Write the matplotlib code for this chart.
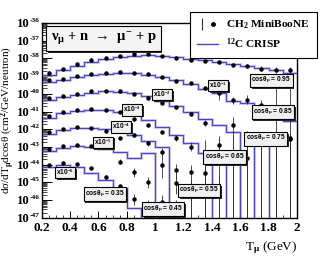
import numpy as np
import matplotlib
matplotlib.use("Agg")
import matplotlib.pyplot as plt
from matplotlib.lines import Line2D
from matplotlib.patches import Rectangle
from matplotlib.legend_handler import HandlerTuple
from matplotlib.transforms import offset_copy, blended_transform_factory, IdentityTransform
from matplotlib.ticker import FixedLocator, NullFormatter

nan = float("nan")

# ---------------- data ----------------
T_edges = [0.2, 0.3, 0.4, 0.5, 0.6, 0.7, 0.8, 0.9, 1.0, 1.1, 1.2, 1.3, 1.4,
           1.5, 1.6, 1.7, 1.8, 1.9, 2.0]
T_centers = [0.25, 0.35, 0.45, 0.55, 0.65, 0.75, 0.85, 0.95, 1.05, 1.15, 1.25,
             1.35, 1.45, 1.55, 1.65, 1.75, 1.85, 1.95]

cos_bins = ["0.95", "0.85", "0.75", "0.65", "0.55", "0.45", "0.35"]
scale_exp = [0, -1, -2, -3, -4, -5, -6]

# MiniBooNE points: log10 of plotted (scaled) cross section, error ends in decades
mb_095 = [-38.82, -38.59, -38.31, -38.11, -37.97, -37.84, -37.78, -37.77, -37.87, -37.97,
          -38.07, -38.16, -38.22, -38.35, -38.45, -38.59, -38.63, -38.67]
up_095 = [0.10, 0.07, 0.04, 0.03, 0.03, 0.03, 0.03, 0.03, 0.03, 0.04, 0.05, 0.06, 0.08,
          0.10, 0.12, 0.14, 0.16, 0.18]
dn_095 = [0.10, 0.07, 0.04, 0.03, 0.03, 0.03, 0.03, 0.03, 0.03, 0.04, 0.05, 0.06, 0.08,
          0.10, 0.12, 0.14, 0.16, 0.18]

mb_085 = [-39.20, -39.16, -39.01, -38.88, -38.82, -38.76, -38.82, -38.88, -39.03, -39.26,
          -39.39, -39.67, -39.95, -40.37, -40.33, -40.62, -39.30, -39.30]
up_085 = [0.05, 0.04, 0.03, 0.03, 0.03, 0.03, 0.03, 0.03, 0.04, 0.06, 0.08, 0.12, 0.40,
          0.20, 0.25, 0.25, 0.50, 0.50]
dn_085 = [0.05, 0.04, 0.03, 0.03, 0.03, 0.03, 0.03, 0.03, 0.04, 0.06, 0.08, 0.12, 0.40,
          0.20, 0.25, 0.30, 9, 9]

mb_075 = [-40.24, -40.11, -39.99, -39.86, -39.82, -39.86, -39.99, -40.24, -40.52, -40.75,
          -41.14, -41.65, -42.88, -41.75, -42.55, -42.55, -42.55, -42.50]
up_075 = [0.04, 0.03, 0.03, 0.03, 0.03, 0.03, 0.03, 0.04, 0.05, 0.08, 0.12, 0.18, 0.35,
          0.45, 0.30, 0.30, 0.30, 0.30]
dn_075 = [0.04, 0.03, 0.03, 0.03, 0.03, 0.03, 0.03, 0.04, 0.05, 0.08, 0.12, 0.18, 0.35,
          9, 9, 9, 9, 9]

mb_065 = [-41.27, -41.00, -40.90, -40.86, -40.90, -41.00, -41.43, -41.75, -42.13, -42.50,
          -42.98, -43.60, -43.60, -43.60, -43.60, -42.55, -42.55, -42.55]
up_065 = [0.05, 0.04, 0.03, 0.03, 0.03, 0.04, 0.05, 0.06, 0.10, 0.15, 0.25, 1.0, 1.2,
          1.3, 1.5, 0.3, 0.3, 0.3]
dn_065 = [0.05, 0.04, 0.03, 0.03, 0.03, 0.04, 0.05, 0.06, 0.10, 0.15, 0.25, 9, 9,
          9, 9, 9, 9, 9]

mb_055 = [-42.16, -41.98, -41.88, -41.94, -42.09, -42.50, -42.32, -42.79, -43.26, -44.30,
          -44.40, -44.45, -45.45, nan, nan, nan, nan, nan]
up_055 = [0.06, 0.04, 0.04, 0.04, 0.05, 0.08, 0.10, 0.15, 0.22, 0.35, 0.40, 0.40, 0.80,
          nan, nan, nan, nan, nan]
dn_055 = [0.06, 0.04, 0.04, 0.04, 0.05, 0.08, 0.10, 0.15, 0.22, 0.50, 9, 9, 9,
          nan, nan, nan, nan, nan]

mb_045 = [-43.11, -42.97, -42.88, -42.96, -42.95, -43.83, -44.40, -44.96, -44.02, -45.05,
          -45.45, -45.45, nan, nan, nan, nan, nan, nan]
up_045 = [0.05, 0.04, 0.04, 0.04, 0.05, 0.15, 0.20, 0.25, 0.60, 0.60, 0.60, 0.60,
          nan, nan, nan, nan, nan, nan]
dn_045 = [0.05, 0.04, 0.04, 0.04, 0.05, 0.15, 0.30, 0.35, 0.70, 0.60, 9, 9,
          nan, nan, nan, nan, nan, nan]

mb_035 = [-44.02, -43.92, -43.96, -44.20, -44.68, -45.21, -45.96, -46.50, -46.10, -46.50,
          nan, nan, nan, nan, nan, nan, nan, nan]
up_035 = [0.05, 0.05, 0.05, 0.06, 0.08, 0.12, 0.30, 0.50, 0.40, 0.50,
          nan, nan, nan, nan, nan, nan, nan, nan]
dn_035 = [0.05, 0.05, 0.05, 0.06, 0.08, 0.12, 0.30, 9, 9, 9,
          nan, nan, nan, nan, nan, nan, nan, nan]

# CRISP histograms: log10 of plotted (scaled) values, nan = empty bin
crisp_095 = [-38.95, -38.68, -38.42, -38.20, -38.03, -37.92, -37.85, -37.82, -37.85, -37.93,
             -38.03, -38.12, -38.22, -38.30, -38.42, -38.55, -38.68, -38.80]
crisp_085 = [-39.35, -39.22, -39.06, -38.95, -38.88, -38.83, -38.85, -38.92, -39.05, -39.22,
             -39.42, -39.75, -39.95, -40.43, -40.50, -40.71, -41.00, -41.56]
crisp_075 = [-40.35, -40.18, -40.05, -39.93, -39.86, -39.88, -39.97, -40.15, -40.40, -40.70,
             -41.05, -41.40, -41.75, -42.13, nan, -42.55, nan, nan]
crisp_065 = [-41.35, -41.10, -40.97, -40.92, -40.93, -41.02, -41.20, -41.45, -41.90, -42.32,
             -42.79, -43.35, nan, nan, nan, nan, nan, nan]
crisp_055 = [-42.25, -42.05, -41.93, -41.92, -42.00, -42.15, -42.35, -42.65, -43.00, nan,
             nan, nan, nan, -43.60, nan, nan, nan, nan]
crisp_045 = [-43.20, -43.05, -42.97, -42.98, -43.10, -43.30, -43.60, -43.35, nan, nan,
             nan, nan, nan, nan, nan, nan, nan, nan]
crisp_035 = [-44.10, -44.02, -44.10, -44.49, -44.87, -45.34, -46.45, nan, nan, nan,
             nan, nan, nan, nan, nan, nan, nan, nan]

# label positions (T, log10 y)
cos_label_pos = [(1.82, -39.26), (1.83, -41.04), (1.78, -42.54), (1.49, -43.56),
                 (1.31, -45.46), (1.055, -46.51), (0.645, -45.66)]
scale_label_pos = [None, (1.444, -39.54), (1.05, -40.05), (0.837, -40.90),
                   (0.76, -41.86), (0.63, -42.74), (0.364, -44.44)]

series_mb = [mb_095, mb_085, mb_075, mb_065, mb_055, mb_045, mb_035]
series_up = [up_095, up_085, up_075, up_065, up_055, up_045, up_035]
series_dn = [dn_095, dn_085, dn_075, dn_065, dn_055, dn_045, dn_035]
series_crisp = [crisp_095, crisp_085, crisp_075, crisp_065, crisp_055, crisp_045, crisp_035]

y_decades = list(range(-47, -35))
x_tick_vals = [0.2, 0.4, 0.6, 0.8, 1.0, 1.2, 1.4, 1.6, 1.8, 2.0]
x_tick_text = ['0.2', '0.4', '0.6', '0.8', '1', '1.2', '1.4', '1.6', '1.8', '2']

# ---------------- style ----------------
plt.rcParams['font.family'] = ['Liberation Serif', 'DejaVu Serif']
plt.rcParams['font.weight'] = 'bold'
plt.rcParams['mathtext.fontset'] = 'custom'
plt.rcParams['mathtext.rm'] = 'Liberation Serif:bold'
plt.rcParams['mathtext.it'] = 'Liberation Serif:bold'
plt.rcParams['mathtext.bf'] = 'Liberation Serif:bold'
plt.rcParams['mathtext.sf'] = 'Liberation Sans:bold'
plt.rcParams['mathtext.default'] = 'rm'

fig = plt.figure(figsize=(3.31, 2.57), dpi=100)
ax = fig.add_axes([0.126, 0.152, 0.771, 0.759])
ax.set_yscale('log')
ax.set_xlim(0.2, 2.0)
ax.set_ylim(1e-47, 1e-36)
ax.set_autoscale_on(False)

line_dark = '#4646c6'
line_light = '#b4b4e8'

for k in range(len(cos_bins)):
    cv = np.array(series_crisp[k], dtype=float)
    lin = np.where(np.isnan(cv), 0.0, 10.0 ** cv)
    ax.stairs(lin, T_edges, baseline=None, color=line_light, lw=1.8, zorder=2)
    ax.stairs(lin, T_edges, baseline=None, color=line_dark, lw=0.7, zorder=3)

    v = np.array(series_mb[k], dtype=float)
    up = np.array(series_up[k], dtype=float)
    dn = np.array(series_dn[k], dtype=float)
    x = np.array(T_centers)
    ok = ~np.isnan(v)
    ax.vlines(x[ok], 10.0 ** (v[ok] - dn[ok]), 10.0 ** (v[ok] + up[ok]),
              color='#303030', lw=0.6, zorder=4)
    ax.plot(x[ok], 10.0 ** v[ok], 'o', ms=2.2, color='black', mec='black', zorder=5)

# text boxes (ROOT-like panes; shadows added after layout)
paves = []
def pave(xd, yd, s, size, family, pad=0.18, fc='#f0f0f0'):
    t = ax.text(xd, yd, s, fontsize=size, family=family, color='black',
                ha='center', va='center', zorder=10,
                bbox=dict(boxstyle=f'square,pad={pad}', fc=fc, ec='black', lw=0.8))
    paves.append(t)

sans = ['Liberation Sans', 'DejaVu Sans']
for k, cb in enumerate(cos_bins):
    tx, ty = cos_label_pos[k]
    pave(tx, 10.0 ** ty, 'cosθ$_{μ}$ = ' + cb, 4.8, sans)
    if scale_label_pos[k] is not None:
        sx, sy = scale_label_pos[k]
        pave(sx, 10.0 ** sy, 'x10$^{%d}$' % scale_exp[k], 4.8, sans)

# reaction title box
pave(0.636, 10.0 ** -36.88, 'ν$_{μ}$ + n  →  μ$^{-}$ + p', 10.5,
     ['Liberation Serif', 'DejaVu Serif'], pad=0.3, fc='#f4f4f4')

# y ticks: "10" with small exponent (ROOT style)
ax.yaxis.set_major_locator(FixedLocator([10.0 ** e for e in y_decades]))
ax.yaxis.set_major_formatter(NullFormatter())
blend = blended_transform_factory(ax.transAxes, ax.transData)
t_base = offset_copy(blend, fig=fig, x=-12, y=-4, units='dots')
t_exp = offset_copy(blend, fig=fig, x=-12, y=1, units='dots')
for e in y_decades:
    ax.text(0, 10.0 ** e, '10', transform=t_base, fontsize=9.2, ha='right',
            va='baseline', clip_on=False)
    ax.text(0, 10.0 ** e, str(e), transform=t_exp, fontsize=5.3, ha='left',
            va='baseline', clip_on=False)

ymin = []
for e in y_decades[:-1]:
    for m in range(2, 10):
        ymin.append(m * 10.0 ** e)
ax.yaxis.set_minor_locator(FixedLocator(ymin))
ax.yaxis.set_minor_formatter(NullFormatter())
ax.set_xticks(x_tick_vals)
ax.set_xticklabels(x_tick_text)
ax.xaxis.set_minor_locator(FixedLocator([0.2 + 0.05 * i for i in range(37)]))
ax.tick_params(axis='both', which='both', direction='in', top=False, right=False)
ax.tick_params(axis='y', which='major', length=7, width=0.7)
ax.tick_params(axis='y', which='minor', length=3.5, width=0.5)
ax.tick_params(axis='x', which='major', length=5, width=0.7, labelsize=9.5, pad=3)
ax.tick_params(axis='x', which='minor', length=2.5, width=0.5)
for sp in ax.spines.values():
    sp.set_linewidth(1.0)

ax.set_xlabel('T$_{μ}$ (GeV)', fontsize=9.5, loc='right', labelpad=4)
ax.set_ylabel('dσ/dT$_{μ}$dcosθ (cm$^{2}$/GeV/neutron)', fontsize=8.0, loc='center')
ax.yaxis.set_label_coords(-0.097, 0.5)

# legend
h_bar = Line2D([], [], color='#303030', lw=0, marker='|', ms=9, mew=0.8)
h_dot = Line2D([], [], color='black', lw=0, marker='o', ms=2.5)
h_line = Line2D([], [], color=line_dark, lw=1.0)
leg = fig.legend([(h_bar, h_dot), h_line], ['CH$_{2}$ MiniBooNE', '$^{12}$C CRISP'],
                 handler_map={tuple: HandlerTuple(ndivide=None, pad=0)},
                 loc='center', bbox_to_anchor=(0.765, 0.864), fontsize=8.2,
                 frameon=True, fancybox=False, edgecolor='black', framealpha=1,
                 borderpad=0.6, handlelength=1.9, handletextpad=0.7, labelspacing=0.45,
                 borderaxespad=0)
leg.get_frame().set_linewidth(0.8)
leg.set_zorder(20)

# drop shadows for panes (drawn inside the axes, just below each pane)
fig.canvas.draw()
for t in paves:
    bb = t.get_bbox_patch().get_window_extent()
    ax.add_artist(Rectangle((bb.x0 + 1.8, bb.y0 - 1.8), bb.width, bb.height,
                            transform=IdentityTransform(), fc='#2a2a2a', ec='none',
                            zorder=9, clip_on=False))

fig.savefig('out.png', dpi=100)
